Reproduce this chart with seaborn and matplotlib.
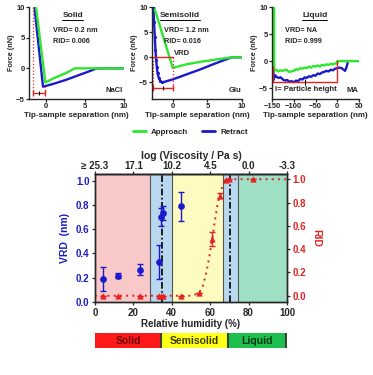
import matplotlib.pyplot as plt
import seaborn as sns
from matplotlib.lines import Line2D

# ---- force curves (top row) ----
nacl_appr_x = [-1.3, -0.1, 1.0, 2.5, 3.7, 6.0, 8.0, 10.0]
nacl_appr_y = [10.0, -2.3, -1.6, -0.8, 0.0, 0.0, 0.0, 0.0]
nacl_retr_x = [-1.5, -0.4, 1.0, 2.5, 4.0, 5.5, 6.5, 8.0, 10.0]
nacl_retr_y = [10.0, -3.0, -2.5, -1.9, -1.2, -0.5, 0.0, 0.0, 0.0]

glu_appr_x = [-2.7, 0.0, 2.0, 4.0, 6.0, 8.5, 10.0]
glu_appr_y = [10.0, -2.1, -1.4, -0.9, -0.5, 0.0, 0.0]
glu_retr_x = [-2.8, -2.7, -2.6, -2.5, -2.4, -2.3, -2.2, -2.0, -1.8, -1.5, -1.0, 0.0, 2.0, 4.0, 6.0, 8.5, 10.0]
glu_retr_y = [10.0, 7.0, 4.0, 1.5, -0.5, -2.0, -3.2, -4.2, -4.7, -5.0, -4.8, -4.4, -3.4, -2.4, -1.3, 0.0, 0.0]

ma_appr_x = [-145, -145, -140, -135, -130, -125, -120, -115, -110, -105, -100, -95, -90, -85,
             -80, -75, -70, -65, -60, -55, -50, -45, -40, -35, -30, -25, -20, -15, -10, -5,
             -1, 0, 0, 25, 50]
ma_appr_y = [10.0, -1.8, -1.6, -1.9, -1.7, -1.8, -1.6, -1.7, -2.0, -1.9, -1.8, -1.5, -1.6, -1.3,
             -1.4, -1.2, -1.3, -1.0, -1.2, -0.9, -1.0, -0.8, -1.0, -0.7, -0.8, -0.6, -0.7, -0.5,
             -0.6, -0.4, -0.5, -0.5, 0.0, 0.0, 0.0]
ma_retr_x = [-147, -147, -143, -140, -135, -130, -125, -120, -115, -110, -105, -100, -95, -90,
             -85, -80, -75, -70, -65, -60, -55, -50, -45, -40, -35, -30, -25, -20, -15, -10,
             -5, 0, 5, 10, 15, 18, 21, 24]
ma_retr_y = [10.0, -3.5, -2.6, -2.9, -3.1, -3.0, -3.4, -3.6, -3.5, -3.8, -3.7, -3.9, -3.6, -3.7,
             -3.3, -3.4, -3.0, -3.1, -2.8, -2.9, -2.6, -2.7, -2.3, -2.4, -2.1, -2.0, -1.8, -1.9,
             -1.6, -1.7, -1.4, -1.3, -1.2, -1.3, -1.6, -1.8, -1.2, -0.3]

# ---- main panel ----
rh_vrd = [4.3, 12.1, 23.4, 33.3, 34.4, 35.6, 45.0]
vrd = [0.19, 0.215, 0.267, 0.33, 0.70, 0.735, 0.79]
vrd_err = [0.10, 0.02, 0.048, 0.14, 0.075, 0.06, 0.12]

rh_rid = [4.3, 12.1, 23.4, 33.3, 34.4, 35.6, 45.0, 54.2, 61.1, 65.0, 68.0, 69.9, 82.1]
rid = [0.0, 0.0, 0.0, 0.0, 0.0, 0.0, 0.0, 0.02, 0.49, 0.86, 0.99, 1.0, 1.0]
rid_err = [0, 0, 0, 0, 0, 0, 0, 0, 0.06, 0.02, 0, 0, 0]

fit_rh = [0, 50, 54, 56, 58, 59.5, 61, 62.5, 64, 65.5, 67, 69, 100]
fit_rid = [0.0, 0.0, 0.02, 0.07, 0.2, 0.33, 0.48, 0.65, 0.8, 0.9, 0.97, 1.0, 1.0]

zone_edges = [0, 28.6, 40.0, 66.5, 74.3, 100]
zone_colors = ["#f9c9c9", "#b9d7ee", "#fdfbc0", "#b9d7ee", "#9fe0c4"]
transition_rh = [35.0, 70.3]

visc_ticks = [0, 20, 40, 60, 80, 100]
visc_labels = ["\u2265 25.3", "17.1", "10.2", "4.5", "0.0", "-3.3"]

phase_names = ["Solid", "Semisolid", "Liquid"]
phase_edges = [0, 34.7, 69.8, 100]
phase_colors = ["#ff1a1a", "#ffff1a", "#1fbf4f"]
phase_text = ["#6a0000", "#3a3a00", "#003a14"]

GREEN = "#2ee62e"
BLUE = "#1a1acc"
RED = "#e52222"

sns.set_style("ticks")
plt.rcParams["font.family"] = ["Liberation Sans", "DejaVu Sans"]
plt.rcParams["font.weight"] = "bold"
plt.rcParams["axes.labelweight"] = "bold"
plt.rcParams["axes.linewidth"] = 1.0

W, H = 373, 375
fig = plt.figure(figsize=(W / 100, H / 100), dpi=100)
titles = []  # (axes, text) pairs to underline later


def box(l, t, r, b):
    return [l / W, 1 - b / H, (r - l) / W, (b - t) / H]


def force_panel(rect, ax_x, ax_y, rx, ry, xlim, ylim, xticks, yticks):
    ax = fig.add_axes(rect)
    sns.lineplot(x=rx, y=ry, ax=ax, color=BLUE, lw=1.7, sort=False, estimator=None)
    sns.lineplot(x=ax_x, y=ax_y, ax=ax, color=GREEN, lw=1.7, sort=False, estimator=None)
    ax.set_xlim(xlim)
    ax.set_ylim(ylim)
    ax.set_xticks(xticks)
    ax.set_yticks(yticks)
    sns.despine(ax=ax)
    ax.tick_params(labelsize=5.5, length=2, width=0.9, pad=1)
    ax.set_xlabel("Tip-sample separation (nm)", fontsize=5.8, labelpad=1)
    ax.set_ylabel("Force (nN)", fontsize=5.2, labelpad=1)
    return ax


def bar_marker(ax, x0, x1, y):
    ax.plot([x0, x1], [y, y], color=RED, lw=1)
    ax.plot([x0, x1], [y, y], ls="none", marker="|", ms=4, color=RED, mew=1)
    ax.plot([(x0 + x1) / 2], [y], ls="none", marker="|", ms=3, color="black", mew=0.8)


def panel_text(ax, title, vrd_txt, rid_txt, label, tx, vx):
    t = ax.text(tx, 0.91, title, transform=ax.transAxes, ha="center", va="center", fontsize=6)
    titles.append((ax, t))
    ax.text(vx, 0.74, vrd_txt, transform=ax.transAxes, fontsize=5.2, va="center")
    ax.text(vx, 0.63, rid_txt, transform=ax.transAxes, fontsize=5.2, va="center")
    ax.text(0.99, 0.09, label, transform=ax.transAxes, fontsize=5.5, ha="right", va="center")


# NaCl
ax1 = force_panel(box(29, 7, 124, 99), nacl_appr_x, nacl_appr_y, nacl_retr_x, nacl_retr_y,
                  (-2.2, 10), (-5, 10), [0, 5, 10], [-5, 0, 5, 10])
ax1.plot([-1.7, -1.7], [10, -4.1], color=RED, ls=":", lw=0.9)
ax1.plot([-0.2, -0.2], [-2.8, -4.1], color=RED, ls=":", lw=0.9)
bar_marker(ax1, -1.7, -0.2, -4.1)
panel_text(ax1, "Solid", "VRD= 0.2 nm", "RID= 0.006", "NaCl", 0.46, 0.25)

# Glu
ax2 = force_panel(box(152, 7, 242, 99), glu_appr_x, glu_appr_y, glu_retr_x, glu_retr_y,
                  (-3, 10), (-8.3, 10), [0, 5, 10], [-5, 0, 5, 10])
ax2.plot(glu_retr_x[:10], glu_retr_y[:10], ls="none", marker=".", ms=2.5, color=BLUE)
ax2.plot([-2.9, 0], [0, 0], color=RED, lw=1)
ax2.plot([-2.9, -2.9], [0, -6.2], color=RED, ls=":", lw=0.9)
ax2.plot([0, 0], [0, -6.2], color=RED, ls=":", lw=0.9)
bar_marker(ax2, -2.9, 0, -6.2)
ax2.text(0.1, 0.1, "VRD", fontsize=5.5, va="bottom")
panel_text(ax2, "Semisolid", "VRD= 1.2 nm", "RID= 0.016", "Glu", 0.31, 0.13)

# MA
ax3 = force_panel(box(272, 7, 359, 99), ma_appr_x, ma_appr_y, ma_retr_x, ma_retr_y,
                  (-150, 50), (-7, 10), [-150, -100, -50, 0, 50], [-5, 0, 5, 10])
ax3.plot([-147, 0], [-3.9, -3.9], color=RED, lw=1)
ax3.plot([0, 0], [0, -3.9], color=RED, lw=1)
ax3.plot([-147, -147], [-1, -3.9], color=RED, lw=1)
ax3.plot([-75], [-3.9], ls="none", marker="|", ms=4, color="black", mew=0.8)
ax3.text(0.03, 0.1, "I= Particle height", transform=ax3.transAxes, fontsize=5.5, va="center")
panel_text(ax3, "Liquid", "VRD= NA", "RID= 0.999", "MA", 0.49, 0.15)

# legend
handles = [Line2D([0], [0], color=GREEN, lw=2, label="Approach"),
           Line2D([0], [0], color=BLUE, lw=2, label="Retract")]
fig.legend(handles=handles, loc="center", bbox_to_anchor=(0.51, 1 - 132 / H), ncol=2,
           frameon=False, fontsize=5.8, handlelength=1.6, columnspacing=1.8, handletextpad=0.6)

# ---- main panel ----
ax = fig.add_axes(box(95, 174, 287, 302))
for i, c in enumerate(zone_colors):
    ax.axvspan(zone_edges[i], zone_edges[i + 1], color=c, lw=0, zorder=0)
for e in zone_edges[1:-1]:
    ax.axvline(e, color="#555555", lw=0.8, zorder=1)
for x in transition_rh:
    ax.axvline(x, color="black", lw=1.2, ls=(0, (4, 1.5, 1, 1.5)), zorder=1)

ax.errorbar(rh_vrd, vrd, yerr=vrd_err, fmt="none", ecolor=BLUE, elinewidth=1,
            capsize=2.5, capthick=1, zorder=3)
sns.scatterplot(x=rh_vrd, y=vrd, ax=ax, color=BLUE, s=20, marker="o", edgecolor=BLUE, zorder=4)
ax.set_xlim(0, 100)
ax.set_ylim(0, 1.055)
ax.set_xticks([0, 20, 40, 60, 80, 100])
ax.set_yticks([0.0, 0.2, 0.4, 0.6, 0.8, 1.0])
ax.set_yticklabels([f"{v:.1f}" for v in [0.0, 0.2, 0.4, 0.6, 0.8, 1.0]], color=BLUE)
ax.tick_params(labelsize=7, length=2.5, width=0.9, pad=1.5)
ax.set_xlabel("Relative humidity (%)", fontsize=7, labelpad=1)
ax.set_ylabel("VRD  (nm)", fontsize=7.5, color=BLUE, labelpad=4)

axr = ax.twinx()
sns.lineplot(x=fit_rh, y=fit_rid, ax=axr, color=RED, lw=1.4, ls=(0, (1, 2.2)),
             sort=False, estimator=None)
axr.errorbar(rh_rid, rid, yerr=rid_err, fmt="none", ecolor=RED, elinewidth=1,
             capsize=2, capthick=1)
sns.scatterplot(x=rh_rid, y=rid, ax=axr, color=RED, s=16, marker="^", edgecolor=RED, zorder=4)
axr.set_ylim(-0.054, 1.045)
axr.set_yticks([0.0, 0.2, 0.4, 0.6, 0.8, 1.0])
axr.set_yticklabels([f"{v:.1f}" for v in [0.0, 0.2, 0.4, 0.6, 0.8, 1.0]], color=RED)
axr.tick_params(labelsize=7, length=2.5, width=0.9, pad=1.5)
axr.set_ylabel("RID", fontsize=7.5, color=RED, rotation=270, labelpad=11)

sec = ax.secondary_xaxis("top")
sec.set_xticks(visc_ticks)
sec.set_xticklabels(visc_labels)
sec.tick_params(labelsize=7, length=2, width=0.9, pad=0.5)
sec.set_xlabel("log (Viscosity / Pa s)", fontsize=7.5, labelpad=1)

# ---- phase bar ----
axb = fig.add_axes(box(95, 333, 287, 348))
widths = [phase_edges[i + 1] - phase_edges[i] for i in range(3)]
axb.barh([0, 0, 0], widths, left=phase_edges[:3], color=phase_colors, height=1,
         edgecolor="none")
for e in phase_edges[1:]:
    axb.axvline(e, color="#334433", lw=1.5)
for i, name in enumerate(phase_names):
    axb.text((phase_edges[i] + phase_edges[i + 1]) / 2, 0, name, ha="center", va="center",
             fontsize=7.5, color=phase_text[i])
axb.set_xlim(0, 100.5)
axb.set_ylim(-0.5, 0.5)
axb.axis("off")

# underline the panel titles
fig.canvas.draw()
renderer = fig.canvas.get_renderer()
for a, t in titles:
    bb = t.get_window_extent(renderer).transformed(a.transAxes.inverted())
    a.plot([bb.x0, bb.x1], [bb.y0 - 0.01, bb.y0 - 0.01], color="black", lw=0.7,
           transform=a.transAxes, clip_on=False)

fig.savefig("out.png", dpi=100)
